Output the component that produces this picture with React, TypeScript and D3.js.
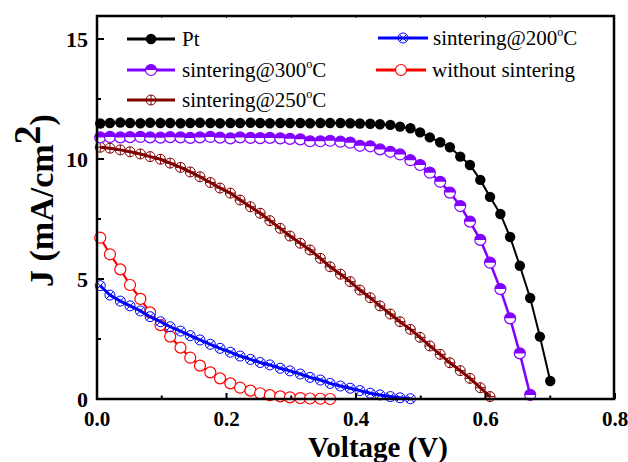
import React from "react";
import * as d3 from "d3";

const voltage = [0.005, 0.020, 0.036, 0.051, 0.067, 0.082, 0.098, 0.113, 0.129, 0.144, 0.159, 0.175, 0.190, 0.206, 0.221, 0.237, 0.252, 0.267, 0.283, 0.298, 0.314, 0.329, 0.345, 0.360, 0.376, 0.391, 0.406, 0.422, 0.437, 0.453, 0.468, 0.484, 0.499, 0.514, 0.530, 0.545, 0.561, 0.576, 0.592, 0.607, 0.623, 0.638, 0.653, 0.669, 0.684, 0.700];

const jPt = [11.48, 11.50, 11.52, 11.50, 11.49, 11.51, 11.50, 11.50, 11.49, 11.50, 11.51, 11.50, 11.49, 11.50, 11.50, 11.51, 11.50, 11.49, 11.50, 11.50, 11.50, 11.49, 11.50, 11.50, 11.50, 11.49, 11.48, 11.47, 11.45, 11.42, 11.35, 11.28, 11.11, 10.90, 10.70, 10.49, 10.10, 9.75, 9.13, 8.42, 7.71, 6.75, 5.55, 4.21, 2.60, 0.75];

const j300 = [10.90, 10.92, 10.90, 10.91, 10.92, 10.90, 10.89, 10.91, 10.90, 10.88, 10.90, 10.92, 10.89, 10.86, 10.90, 10.88, 10.87, 10.88, 10.86, 10.84, 10.82, 10.74, 10.74, 10.76, 10.72, 10.68, 10.55, 10.53, 10.40, 10.30, 10.19, 9.95, 9.75, 9.43, 9.05, 8.60, 8.04, 7.39, 6.63, 5.68, 4.58, 3.36, 1.90, 0.17];

const j250 = [10.49, 10.45, 10.38, 10.30, 10.21, 10.10, 9.99, 9.83, 9.65, 9.46, 9.26, 9.02, 8.79, 8.58, 8.29, 8.01, 7.74, 7.43, 7.11, 6.79, 6.49, 6.21, 5.86, 5.51, 5.20, 4.89, 4.54, 4.22, 3.88, 3.54, 3.22, 2.90, 2.57, 2.21, 1.86, 1.51, 1.18, 0.86, 0.47, 0.10];

const j200 = [4.72, 4.33, 4.08, 3.88, 3.67, 3.43, 3.22, 3.01, 2.83, 2.64, 2.46, 2.28, 2.11, 1.95, 1.79, 1.65, 1.52, 1.42, 1.28, 1.17, 1.04, 0.90, 0.79, 0.65, 0.54, 0.45, 0.35, 0.24, 0.17, 0.10, 0.05, 0.01];

const jNone = [6.72, 6.03, 5.40, 4.75, 4.17, 3.61, 3.08, 2.60, 2.14, 1.72, 1.39, 1.11, 0.86, 0.65, 0.47, 0.35, 0.24, 0.16, 0.11, 0.07, 0.04, 0.02, 0.01, 0.0];

const xTicks = [0.0, 0.2, 0.4, 0.6, 0.8];
const xMinor = [0.1, 0.3, 0.5, 0.7];
const yTicks = [0, 5, 10, 15];
const yMinor = [2.5, 7.5, 12.5];

const W = 628, H = 462;
const L = 97, R = 614, T = 16, B = 399;

const x = d3.scaleLinear().domain([0, 0.8]).range([L, L + 518]);
const y = d3.scaleLinear().domain([0, 16]).range([B, B - 384]);

const PURPLE = "#8000FF";
const WINE = "#800000";
const BLUE = "#0000FF";
const RED = "#FF0000";
const FONT = "Liberation Serif, Times New Roman, Times, serif";

type Kind = "pt" | "half" | "plus" | "cross" | "open";

function Marker({ cx, cy, kind, color }: { cx: number; cy: number; kind: Kind; color: string }) {
  const r = 5;
  if (kind === "pt") return <circle cx={cx} cy={cy} r={5.2} fill={color} />;
  if (kind === "half") {
    const rr = 5.5;
    return (
      <g>
        <circle cx={cx} cy={cy} r={rr} fill="#fff" stroke={color} strokeWidth={1.2} />
        <path d={`M${cx - rr},${cy} A${rr},${rr} 0 0 1 ${cx + rr},${cy} Z`} fill={color} />
      </g>
    );
  }
  if (kind === "plus") {
    return (
      <g fill="none" stroke={color} strokeWidth={1}>
        <circle cx={cx} cy={cy} r={r} />
        <path d={`M${cx - r},${cy}H${cx + r}M${cx},${cy - r}V${cy + r}`} />
      </g>
    );
  }
  if (kind === "cross") {
    const k = r * 0.72;
    return (
      <g fill="none" stroke={color} strokeWidth={1}>
        <circle cx={cx} cy={cy} r={r} />
        <path d={`M${cx - k},${cy - k}L${cx + k},${cy + k}M${cx - k},${cy + k}L${cx + k},${cy - k}`} />
      </g>
    );
  }
  return <circle cx={cx} cy={cy} r={5.5} fill="#fff" stroke={color} strokeWidth={1.2} />;
}

const series = [
  { name: "without", data: jNone, color: RED, kind: "open" as Kind, lw: 2.2 },
  { name: "200", data: j200, color: BLUE, kind: "cross" as Kind, lw: 3 },
  { name: "250", data: j250, color: WINE, kind: "plus" as Kind, lw: 3 },
  { name: "300", data: j300, color: PURPLE, kind: "half" as Kind, lw: 2.5 },
  { name: "Pt", data: jPt, color: "#000", kind: "pt" as Kind, lw: 2 },
];

const line = d3
  .line<[number, number]>()
  .x((d) => x(d[0]))
  .y((d) => y(d[1]));

function Deg({ t }: { t: string }) {
  return (
    <>
      {t}
      <tspan fontSize={12} dy={-9}>o</tspan>
      <tspan dy={9}>C</tspan>
    </>
  );
}

export default function App() {
  const legend = [
    { label: <>Pt</>, color: "#000", kind: "pt" as Kind, x1: 127, x2: 175, ty: 39, tx: 182 },
    { label: <Deg t="sintering@300" />, color: PURPLE, kind: "half" as Kind, x1: 127, x2: 175, ty: 70, tx: 182 },
    { label: <Deg t="sintering@250" />, color: WINE, kind: "plus" as Kind, x1: 127, x2: 175, ty: 100, tx: 182 },
    { label: <Deg t="sintering@200" />, color: BLUE, kind: "cross" as Kind, x1: 378, x2: 428, ty: 38, tx: 433 },
    { label: <>without sintering</>, color: RED, kind: "open" as Kind, x1: 376, x2: 426, ty: 70, tx: 432 },
  ];
  return (
    <svg width={W} height={H} style={{ position: "absolute", left: 0, top: 0, background: "#fff", fontFamily: FONT }}>
      <rect x={0} y={0} width={W} height={H} fill="#fff" />
      {series.map((s) => {
        const pts = s.data.map((v, i) => [voltage[i], v] as [number, number]);
        return (
          <g key={s.name}>
            <path d={line(pts) || ""} fill="none" stroke={s.color} strokeWidth={s.lw} />
            {pts.map((p, i) => (
              <Marker key={i} cx={x(p[0])} cy={y(p[1])} kind={s.kind} color={s.color} />
            ))}
          </g>
        );
      })}
      <rect x={L} y={T} width={R - L} height={B - T} fill="none" stroke="#000" strokeWidth={2.5} />
      {xTicks.map((t) => (
        <g key={"xt" + t}>
          <line x1={x(t)} x2={x(t)} y1={B} y2={B - 6} stroke="#000" strokeWidth={2} />
          <text x={x(t)} y={426} textAnchor="middle" fontSize={21} fontWeight="bold" style={{ fontFamily: FONT }}>{t.toFixed(1)}</text>
        </g>
      ))}
      {xMinor.map((t) => (
        <line key={"xm" + t} x1={x(t)} x2={x(t)} y1={B} y2={B - 3.5} stroke="#000" strokeWidth={2} />
      ))}
      {[...xTicks, ...xMinor].filter((t) => t > 0 && t < 0.8).map((t) => (
        <line key={"xtop" + t} x1={x(t)} x2={x(t)} y1={T} y2={T + 2} stroke="#000" strokeWidth={1} />
      ))}
      {yTicks.map((t) => (
        <g key={"yt" + t}>
          <line x1={L} x2={L + 7} y1={y(t)} y2={y(t)} stroke="#000" strokeWidth={2} />
          <text x={88} y={y(t) + 7.5} textAnchor="end" fontSize={22} fontWeight="bold" style={{ fontFamily: FONT }}>{t}</text>
        </g>
      ))}
      {yMinor.map((t) => (
        <line key={"ym" + t} x1={L} x2={L + 4} y1={y(t)} y2={y(t)} stroke="#000" strokeWidth={2} />
      ))}
      <text x={378} y={457} textAnchor="middle" fontSize={29} fontWeight="bold" style={{ fontFamily: FONT }}>Voltage (V)</text>
      <text transform="translate(53,287) rotate(-90)" fontSize={34} fontWeight="bold" style={{ fontFamily: FONT }}>
        J (mA/cm<tspan dy={-13} fontSize={38}>2</tspan><tspan dy={13}>)</tspan>
      </text>
      {legend.map((l, i) => (
        <g key={"lg" + i}>
          <line x1={l.x1} x2={l.x2} y1={l.ty} y2={l.ty} stroke={l.color} strokeWidth={3} />
          <Marker cx={(l.x1 + l.x2) / 2} cy={l.ty} kind={l.kind} color={l.color} />
          <text x={l.tx} y={l.ty + 7} fontSize={21} style={{ fontFamily: FONT }}>{l.label}</text>
        </g>
      ))}
    </svg>
  );
}
